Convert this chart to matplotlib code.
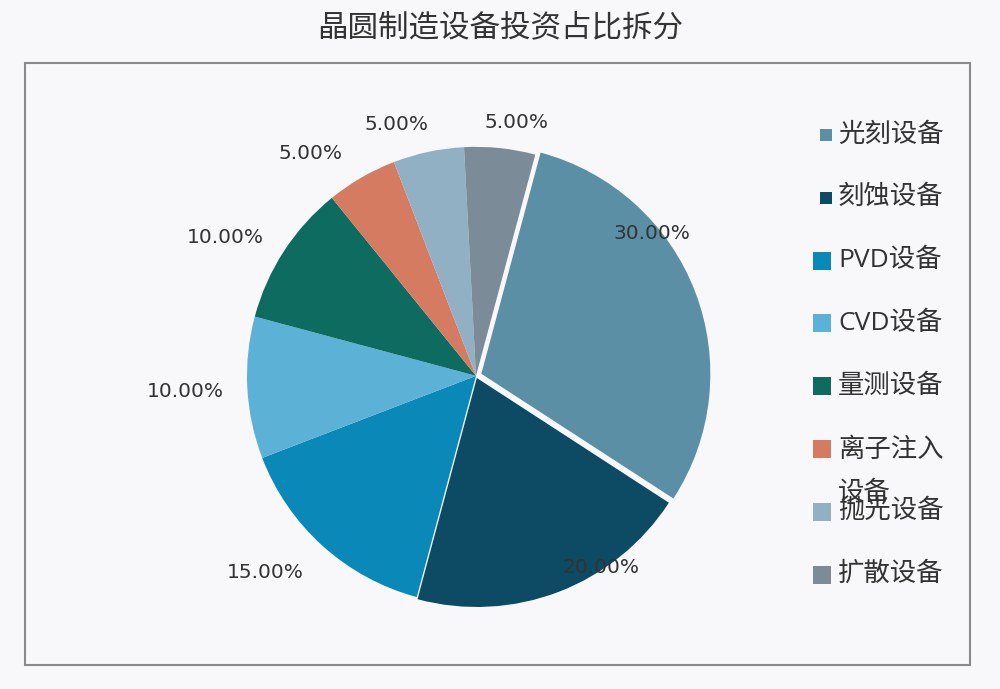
import matplotlib.pyplot as plt
import numpy as np
from matplotlib.patches import Rectangle

plt.rcParams['font.family'] = ['Noto Sans CJK SC', 'DejaVu Sans']

categories = ['光刻设备', '刻蚀设备', 'PVD设备', 'CVD设备', '量测设备', '离子注入设备', '抛光设备', '扩散设备']
shares = [30, 20, 15, 10, 10, 5, 5, 5]
colors = ['#5b8fa6', '#0d4a63', '#0a88b8', '#5bb2d6', '#0e6b60', '#d47b62', '#92b0c4', '#7c8b98']

# styling for the excel-like label placement
explode = [0.025, 0.01, 0, 0, 0, 0, 0, 0]
label_r = [0.99, 1.0, 1.26, 1.27, 1.25, 1.21, 1.15, 1.12]
label_shift = [18, 12, -5, 0, 4, 6.7, 5.5, -3]

bg = '#f8f8fa'
txt = '#333333'
fig = plt.figure(figsize=(10, 6.89), dpi=100, facecolor=bg)

# overlay in pixel coords for frame, title, legend
ov = fig.add_axes([0, 0, 1, 1])
ov.set_xlim(0, 1000)
ov.set_ylim(689, 0)
ov.axis('off')
ov.add_patch(Rectangle((25, 63), 945, 602, fill=False, edgecolor='#8a8a8a', lw=1.5))
ov.text(500, 28, '晶圆制造设备投资占比拆分', ha='center', va='center', fontsize=22, color=txt)

ax = fig.add_axes([0.247, 0.122, 0.458, 0.665])
wedges, _ = ax.pie(shares, colors=colors, startangle=75, counterclock=False,
                   explode=explode, wedgeprops=dict(edgecolor='none'))
for w in wedges:
    w.set_clip_on(False)
ax.set_xlim(-1, 1)
ax.set_ylim(-1, 1)
ax.set_aspect('equal')

for w, v, r, s in zip(wedges, shares, label_r, label_shift):
    ang = np.deg2rad((w.theta1 + w.theta2) / 2 + s)
    ax.text(r * np.cos(ang), r * np.sin(ang), f'{v:.2f}%', ha='center', va='center',
            fontsize=14.5, color=txt, zorder=5, family=['DejaVu Sans'])

# legend drawn by hand (the wrapped label overlaps the next one, as in the original)
leg_y0, leg_dy = 135, 62.8
for i, (name, c) in enumerate(zip(categories, colors)):
    y = leg_y0 + i * leg_dy
    size = 70 if i < 2 else 150
    ov.scatter([826 if i < 2 else 822], [y], marker='s', s=size, color=c, linewidths=0)
    if len(name) > 4 and not name[0].isascii():
        ov.text(838, y, name[:4], ha='left', va='center', fontsize=19, color=txt)
        ov.text(838, y + 43, name[4:], ha='left', va='center', fontsize=19, color=txt)
    else:
        ov.text(838, y, name, ha='left', va='center', fontsize=19, color=txt,
                family=['Open Sans', 'Noto Sans CJK SC'])

fig.savefig('out.png', dpi=100, facecolor=bg)
